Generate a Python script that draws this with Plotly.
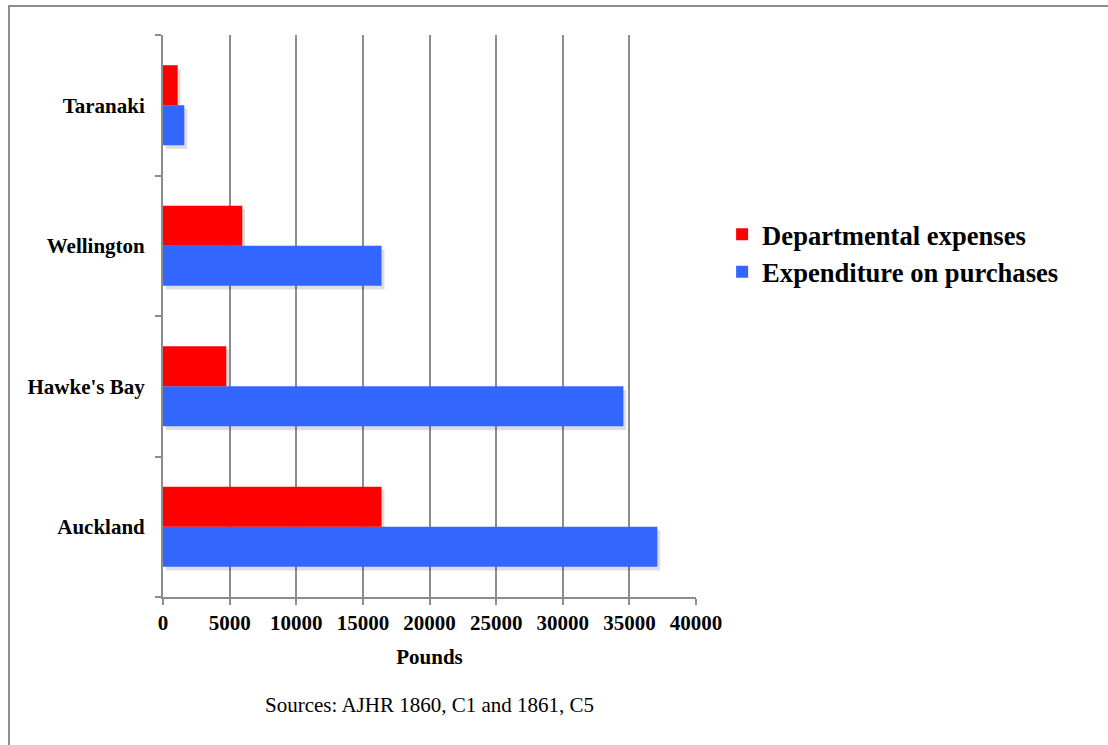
import plotly.graph_objects as go

# Land purchase department spending by province (pounds)
provinces = ["Auckland", "Hawke's Bay", "Wellington", "Taranaki"]
departmental = [16400, 4750, 5950, 1100]
purchases = [37100, 34550, 16400, 1600]
x_ticks = [0, 5000, 10000, 15000, 20000, 25000, 30000, 35000, 40000]

RED = "#FF0000"
BLUE = "#3366FF"
GRID = "#8C8C8C"
SERIF = "Liberation Serif"
BAR_W = 0.285

fig = go.Figure()

# soft drop shadows, on a hidden base axis whose range is nudged so they sit a bit right
for vals, off in ((purchases, -BAR_W), (departmental, 0.0)):
    fig.add_trace(go.Bar(
        y=provinces, x=vals, orientation="h",
        width=BAR_W, offset=off - 0.026,
        marker=dict(color="rgba(0,0,0,0.13)", line=dict(width=0)),
        showlegend=False, hoverinfo="skip", xaxis="x", yaxis="y",
    ))

# the bars themselves, on the visible value axis
fig.add_trace(go.Bar(
    name="Expenditure on purchases", y=provinces, x=purchases, orientation="h",
    width=BAR_W, offset=-BAR_W, marker=dict(color=BLUE, line=dict(width=0)),
    xaxis="x2", yaxis="y", legendrank=2,
))
fig.add_trace(go.Bar(
    name="Departmental expenses", y=provinces, x=departmental, orientation="h",
    width=BAR_W, offset=0.0, marker=dict(color=RED, line=dict(width=0)),
    xaxis="x2", yaxis="y", legendrank=1,
))

bold = dict(family=SERIF, size=21, weight="bold", color="black")

fig.update_layout(
    width=1108, height=745,
    margin=dict(l=163, r=412, t=35, b=148),
    paper_bgcolor="white", plot_bgcolor="white",
    barmode="overlay",
    font=dict(family=SERIF, color="black"),
    xaxis=dict(
        range=[-220, 39780], visible=False, showgrid=False, zeroline=False,
    ),
    xaxis2=dict(
        overlaying="x", side="bottom", anchor="y",
        range=[0, 40000], tickvals=x_ticks, ticktext=[str(v) for v in x_ticks],
        showgrid=True, gridcolor=GRID, gridwidth=2,
        showline=True, linecolor=GRID, linewidth=2,
        ticks="outside", ticklen=6, tickwidth=2, tickcolor=GRID,
        zeroline=False, tickfont=bold,
        title=dict(text="Pounds", standoff=15, font=bold),
    ),
    yaxis=dict(
        type="category", categoryorder="array", categoryarray=provinces,
        range=[-0.5, 3.5],
        showgrid=False, showline=True, linecolor=GRID, linewidth=2,
        ticks="outside", ticklen=6, tickwidth=2, tickcolor=GRID,
        tickson="boundaries", zeroline=False, ticklabelstandoff=12,
        tickfont=bold,
    ),
    legend=dict(
        x=1.049, xanchor="left", y=0.688, yanchor="top",
        font=dict(family=SERIF, size=26.6, weight="bold", color="black"),
        bgcolor="rgba(0,0,0,0)", itemwidth=30, tracegroupgap=0,
    ),
    showlegend=True,
    annotations=[dict(
        text="Sources: AJHR 1860, C1 and 1861, C5",
        xref="paper", yref="paper", x=0.5, y=-0.192,
        xanchor="center", yanchor="middle", showarrow=False,
        font=dict(family=SERIF, size=21, color="black"),
    )],
    shapes=[dict(
        type="rect", xref="paper", yref="paper",
        x0=-0.289, x1=1.80, y0=-0.32, y1=1.0516,
        line=dict(color=GRID, width=2), fillcolor="rgba(0,0,0,0)", layer="below",
    )],
)

fig.write_html("out.html")
